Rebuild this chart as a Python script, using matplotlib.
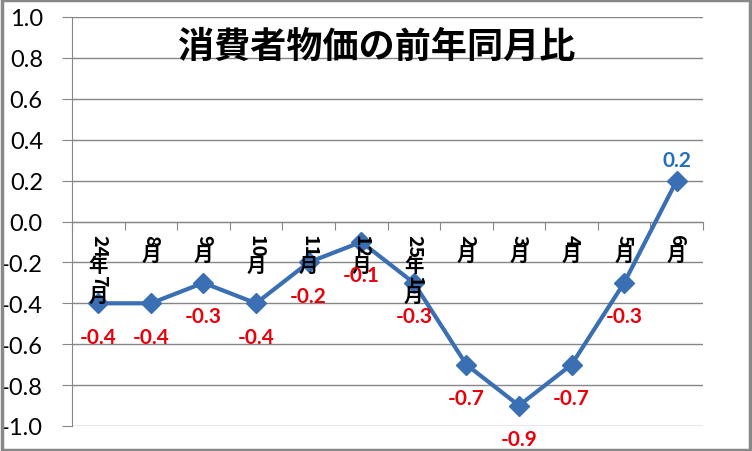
import re
import matplotlib
matplotlib.use("Agg")
import matplotlib.pyplot as plt
from matplotlib.patches import Rectangle

plt.rcParams['font.family'] = ['Lato', 'Noto Sans CJK JP', 'DejaVu Sans']

title = "消費者物価の前年同月比"
months = ["24年7月", "8月", "9月", "10月", "11月", "12月",
          "25年1月", "2月", "3月", "4月", "5月", "6月"]
values = [-0.4, -0.4, -0.3, -0.4, -0.2, -0.1, -0.3, -0.7, -0.9, -0.7, -0.3, 0.2]
yticks = [-1.0, -0.8, -0.6, -0.4, -0.2, 0.0, 0.2, 0.4, 0.6, 0.8, 1.0]

line_color = "#3A6FB3"
grid_color = "#868686"

fig = plt.figure(figsize=(7.52, 4.52), dpi=100)
ax = fig.add_axes([72 / 752, 1 - 427 / 452, 631 / 752, 409 / 452])

x = list(range(len(values)))
ax.plot(x, values, color=line_color, lw=3, marker='D', ms=10,
        markerfacecolor=line_color, markeredgecolor=line_color, zorder=3)

ax.set_xlim(-0.5, len(values) - 0.5)
ax.set_ylim(-1.0, 1.0)
ax.set_yticks(yticks)
ax.set_yticklabels(["%.1f" % v for v in yticks], fontsize=17)
ax.yaxis.grid(True, color=grid_color, lw=1)
ax.set_axisbelow(True)
ax.tick_params(axis='y', length=7, color=grid_color, pad=14)

# category axis crosses at 0, ticks between categories
ax.spines['top'].set_visible(False)
ax.spines['right'].set_visible(False)
ax.spines['left'].set_color(grid_color)
ax.spines['bottom'].set_position(('data', 0))
ax.spines['bottom'].set_color(grid_color)
ax.set_xticks([i + 0.5 for i in range(-1, len(values))])
ax.set_xticklabels([])
ax.tick_params(axis='x', length=6, color=grid_color, direction='out')

# vertical category labels: digits turned, kanji upright
cjk = ['Noto Sans CJK JP', 'DejaVu Sans']
fs = 14
em = fs * 100 / 72.0
for i, lab in enumerate(months):
    off = -13.0
    for seg in re.findall(r"\d+|\D", lab):
        if seg.isdigit():
            ax.annotate(seg, (i, 0), xytext=(0, off * 0.72), textcoords='offset points',
                        rotation=-90, ha='center', va='top', fontsize=fs,
                        fontweight='bold', family=cjk)
            off -= 0.55 * em * len(seg)
        else:
            ax.annotate(seg, (i, 0), xytext=(0, off * 0.72), textcoords='offset points',
                        ha='center', va='top', fontsize=fs, fontweight='bold', family=cjk)
            off -= 1.0 * em

# data labels
for i, v in enumerate(values):
    if v > 0:
        ax.annotate("%.1f" % v, (i, v), xytext=(0, 15), textcoords='offset points',
                    ha='center', va='center', fontsize=15, fontweight='bold',
                    color="#2570B8")
    else:
        ax.annotate("%.1f" % v, (i, v), xytext=(0, -24), textcoords='offset points',
                    ha='center', va='center', fontsize=15, fontweight='bold',
                    color="#E8000B")

fig.text(377 / 752, 1 - 47 / 452, title, ha='center', va='center',
         fontsize=26, fontweight='bold', family=cjk)

fig.patches.append(Rectangle((0.002, 0.003), 0.995, 0.994, transform=fig.transFigure,
                             fill=False, edgecolor="#888888", lw=2.5))

fig.savefig("out.png", dpi=100)
